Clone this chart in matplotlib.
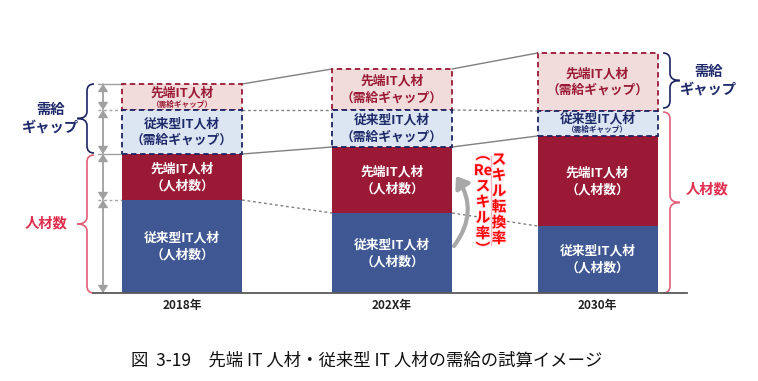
import matplotlib
matplotlib.use('Agg')
import matplotlib.pyplot as plt
from matplotlib.path import Path
from matplotlib.patches import PathPatch, FancyArrowPatch
import matplotlib.patheffects as pe
import numpy as np

plt.rcParams['font.family'] = ['Noto Sans CJK JP', 'DejaVu Sans']

# ---- data ----
years = ['2018年', '202X年', '2030年']
conv_people = [93, 80, 67]     # 従来型IT人材（人材数）
adv_people = [46, 66, 90]      # 先端IT人材（人材数）
conv_gap = [44, 37, 25]        # 従来型IT人材（需給ギャップ）
adv_gap = [26, 41, 58]         # 先端IT人材（需給ギャップ）
caption = '図  3-19　先端 IT 人材・従来型 IT 人材の需給の試算イメージ'
skill_right = ['ス', 'キ', 'ル', '転', '換', '率']
skill_left = ['︵', 'Re', 'ス', 'キ', 'ル', '率', '︶']

# ---- layout / style ----
x_pos = np.array([182, 392, 597.5])
bar_w = 120
C_CONV = '#3F5893'
C_ADV = '#9A1A35'
C_CONV_GAP = '#DCE6F2'
C_ADV_GAP = '#F2DCDB'
C_NAVY = '#1C2562'
C_NAVY_TXT = '#1F2A6B'
C_BRACE_RED = '#E0607A'
C_RED_TXT = '#E0304F'
C_LINE = '#808080'

conv_people = np.array(conv_people, float)
adv_people = np.array(adv_people, float)
conv_gap = np.array(conv_gap, float)
adv_gap = np.array(adv_gap, float)
l1 = conv_people
l2 = l1 + adv_people
l3 = l2 + conv_gap
l4 = l3 + adv_gap

fig = plt.figure(figsize=(7.58, 3.81), dpi=100)
ax = fig.add_axes([0, 0, 1, 1])
ax.set_xlim(0, 758)
ax.set_ylim(-88, 293)
ax.axis('off')

ax.bar(x_pos, conv_people, bar_w, bottom=0, color=C_CONV, zorder=2)
ax.bar(x_pos, adv_people, bar_w, bottom=l1, color=C_ADV, zorder=2)
ax.bar(x_pos, adv_gap, bar_w, bottom=l3, color=C_ADV_GAP, edgecolor=C_ADV,
       linestyle=(0, (3, 2)), linewidth=1.3, zorder=3)
ax.bar(x_pos, conv_gap, bar_w, bottom=l2, color=C_CONV_GAP, edgecolor=C_NAVY,
       linestyle=(0, (3, 2)), linewidth=1.3, zorder=4)

# baseline
ax.plot([93, 687], [0, 0], color='#595959', lw=1.3, zorder=5)

# connecting lines
levels = [(l4, '-'), (l3, (0, (2, 2))), (l2, '-'), (l1, (0, (2, 2)))]
for lev, ls in levels:
    for i in range(len(x_pos) - 1):
        ax.plot([x_pos[i] + bar_w / 2, x_pos[i + 1] - bar_w / 2], [lev[i], lev[i + 1]],
                color=C_LINE, lw=1.0, ls=ls, zorder=1)
    ax.plot([98, x_pos[0] - bar_w / 2], [lev[0], lev[0]], color='#A0A0A0', lw=1.0, ls=ls, zorder=1)

# vertical double arrows (left)
ax.plot([103, 103], [0, l4[0]], color='#B0B0B0', lw=1.2, zorder=1)
bounds = [0, l1[0], l2[0], l3[0], l4[0]]
for a, b in zip(bounds[:-1], bounds[1:]):
    ax.annotate('', xy=(103, b), xytext=(103, a),
                arrowprops=dict(arrowstyle='<|-|>,head_length=0.45,head_width=0.3',
                                color='#A0A0A0', lw=1.0, shrinkA=0, shrinkB=0,
                                mutation_scale=10), zorder=2)


def brace(xs, y0, y1, r, direction, color, lw=1.2):
    # direction: -1 tip points left, +1 tip points right
    xe = xs - direction * r
    xt = xs + direction * r * 1.4
    ym = (y0 + y1) / 2
    verts = [(xe, y1), (xs, y1), (xs, y1 - r),
             (xs, ym + r), (xs, ym), (xt, ym),
             (xs, ym), (xs, ym - r),
             (xs, y0 + r), (xs, y0), (xe, y0)]
    codes = [Path.MOVETO, Path.CURVE3, Path.CURVE3,
             Path.LINETO, Path.CURVE3, Path.CURVE3,
             Path.CURVE3, Path.CURVE3,
             Path.LINETO, Path.CURVE3, Path.CURVE3]
    ax.add_patch(PathPatch(Path(verts, codes), facecolor='none', edgecolor=color, lw=lw, zorder=3))


# left braces
brace(87, l2[0] + 1, l4[0], 7, -1, C_NAVY)
brace(87, 0, l2[0] - 1, 7, -1, C_BRACE_RED)
# right braces
brace(670, l3[2] + 3, l4[2], 7, 1, C_NAVY)
brace(670, 0, l3[2] - 1, 7, 1, C_BRACE_RED)

ax.text(50, (l2[0] + l4[0]) / 2, '需給\nギャップ', ha='center', va='center', fontsize=10.3,
        fontweight='bold', color=C_NAVY_TXT, linespacing=1.35)
ax.text(46, l2[0] / 2, '人材数', ha='center', va='center', fontsize=10.3,
        fontweight='bold', color=C_RED_TXT)
ax.text(708, (l3[2] + l4[2]) / 2 + 1, '需給\nギャップ', ha='center', va='center', fontsize=10.3,
        fontweight='bold', color=C_NAVY_TXT, linespacing=1.35)
ax.text(707, l3[2] / 2 + 13, '人材数', ha='center', va='center', fontsize=10.3,
        fontweight='bold', color=C_RED_TXT)

# in-bar labels
FS = 9.2
for i, x in enumerate(x_pos):
    ax.text(x, l1[i] / 2, '従来型IT人材\n（人材数）', ha='center', va='center', fontsize=FS,
            fontweight='bold', color='white', linespacing=1.4, zorder=6)
    ax.text(x, (l1[i] + l2[i]) / 2, '先端IT人材\n（人材数）', ha='center', va='center', fontsize=FS,
            fontweight='bold', color='white', linespacing=1.4, zorder=6)
    ym = (l2[i] + l3[i]) / 2
    if conv_gap[i] < 30:
        ax.text(x, ym + 5, '従来型IT人材', ha='center', va='center', fontsize=FS,
                fontweight='bold', color=C_NAVY_TXT, zorder=6)
        ax.text(x, ym - 6, '（需給ギャップ）', ha='center', va='center', fontsize=5.5,
                fontweight='bold', color=C_NAVY_TXT, zorder=6)
    else:
        ax.text(x, ym, '従来型IT人材\n（需給ギャップ）', ha='center', va='center', fontsize=FS,
                fontweight='bold', color=C_NAVY_TXT, linespacing=1.4, zorder=6)
    ym = (l3[i] + l4[i]) / 2
    if adv_gap[i] < 30:
        ax.text(x, ym + 4, '先端IT人材', ha='center', va='center', fontsize=FS,
                fontweight='bold', color=C_ADV, zorder=6)
        ax.text(x, ym - 7, '（需給ギャップ）', ha='center', va='center', fontsize=5.5,
                fontweight='bold', color=C_ADV, zorder=6)
    else:
        ax.text(x, ym, '先端IT人材\n（需給ギャップ）', ha='center', va='center', fontsize=FS,
                fontweight='bold', color=C_ADV, linespacing=1.4, zorder=6)
    ax.text(x, -12, years[i], ha='center', va='center', fontsize=8.5, fontweight='bold', color='#222222')

# curved arrow (skill conversion)
arr = FancyArrowPatch((454, 47), (456, 117), connectionstyle='arc3,rad=0.35',
                      arrowstyle='-|>,head_length=0.55,head_width=0.4', mutation_scale=12,
                      color='#A8A8A8', lw=3, zorder=5, shrinkA=0, shrinkB=0)
ax.add_patch(arr)

# red vertical text
red_fx = [pe.withStroke(linewidth=1.5, foreground='#FFE0E6')]
ax.text(499, 293 - 198.5, '\n'.join(skill_right), ha='center', va='center', fontsize=10.5,
        fontweight='bold', color='#FF0000', path_effects=red_fx, linespacing=0.98, zorder=7)
ax.plot([491, 491], [293 - 156, 293 - 245], color='#F6B0C0', lw=1.0, zorder=6)
ax.text(483, 293 - 201.5, '\n'.join(skill_left), ha='center', va='center', fontsize=10.5,
        fontweight='bold', color='#FF0000', path_effects=red_fx, linespacing=0.98, zorder=7)

# caption
ax.text(367, 293 - 361, caption, ha='center', va='center', fontsize=12.5, color='#111111')

fig.savefig('out.png', dpi=100)
